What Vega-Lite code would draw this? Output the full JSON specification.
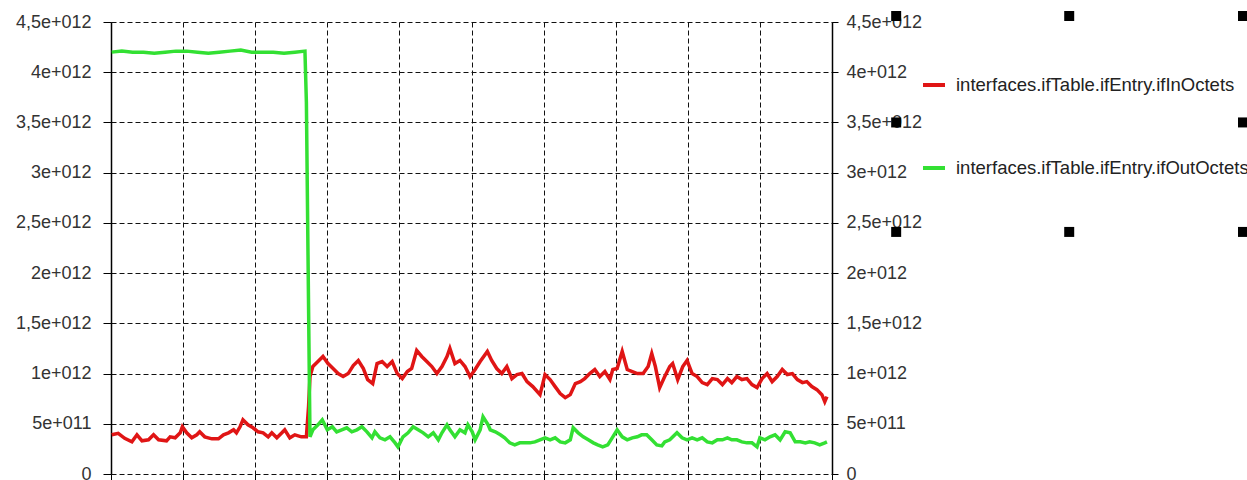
{
  "$schema": "https://vega.github.io/schema/vega-lite/v6.json",
  "width": 721,
  "height": 452,
  "autosize": "none",
  "padding": {"left": 111, "top": 22, "right": 415, "bottom": 6},
  "background": "white",
  "config": {"font": "Liberation Sans", "view": {"stroke": null}},
  "datasets": {
    "inOctets": [
      {"t": 0.1, "v": 0.39e12}, {"t": 1.0, "v": 0.405e12}, {"t": 1.9, "v": 0.355e12}, {"t": 2.9, "v": 0.32e12},
      {"t": 3.6, "v": 0.39e12}, {"t": 4.3, "v": 0.33e12}, {"t": 5.2, "v": 0.34e12}, {"t": 5.9, "v": 0.39e12},
      {"t": 6.6, "v": 0.34e12}, {"t": 7.7, "v": 0.33e12}, {"t": 8.2, "v": 0.37e12}, {"t": 8.9, "v": 0.36e12},
      {"t": 9.6, "v": 0.41e12}, {"t": 9.9, "v": 0.47e12}, {"t": 10.5, "v": 0.41e12}, {"t": 11.2, "v": 0.36e12},
      {"t": 11.9, "v": 0.39e12}, {"t": 12.3, "v": 0.42e12}, {"t": 13.0, "v": 0.37e12}, {"t": 14.0, "v": 0.35e12},
      {"t": 14.9, "v": 0.35e12}, {"t": 15.6, "v": 0.39e12}, {"t": 16.3, "v": 0.41e12}, {"t": 17.0, "v": 0.44e12},
      {"t": 17.4, "v": 0.41e12}, {"t": 17.9, "v": 0.47e12}, {"t": 18.3, "v": 0.54e12}, {"t": 19.0, "v": 0.49e12},
      {"t": 19.7, "v": 0.46e12}, {"t": 20.4, "v": 0.42e12}, {"t": 21.1, "v": 0.41e12}, {"t": 21.8, "v": 0.37e12},
      {"t": 22.3, "v": 0.41e12}, {"t": 23.0, "v": 0.36e12}, {"t": 23.7, "v": 0.41e12}, {"t": 24.1, "v": 0.44e12},
      {"t": 24.8, "v": 0.36e12}, {"t": 25.5, "v": 0.39e12}, {"t": 26.4, "v": 0.37e12}, {"t": 27.1, "v": 0.37e12},
      {"t": 27.4, "v": 0.67e12}, {"t": 27.6, "v": 0.97e12}, {"t": 28.0, "v": 1.07e12}, {"t": 28.7, "v": 1.12e12},
      {"t": 29.4, "v": 1.17e12}, {"t": 30.1, "v": 1.10e12}, {"t": 30.8, "v": 1.05e12}, {"t": 31.5, "v": 1.00e12},
      {"t": 32.2, "v": 0.97e12}, {"t": 32.9, "v": 1.00e12}, {"t": 33.6, "v": 1.08e12}, {"t": 34.3, "v": 1.13e12},
      {"t": 35.0, "v": 1.05e12}, {"t": 35.6, "v": 0.94e12}, {"t": 36.3, "v": 0.90e12}, {"t": 36.9, "v": 1.10e12},
      {"t": 37.6, "v": 1.12e12}, {"t": 38.3, "v": 1.07e12}, {"t": 39.0, "v": 1.12e12}, {"t": 39.7, "v": 1.00e12},
      {"t": 40.4, "v": 0.95e12}, {"t": 41.1, "v": 1.02e12}, {"t": 41.7, "v": 1.05e12}, {"t": 42.4, "v": 1.23e12},
      {"t": 43.1, "v": 1.17e12}, {"t": 43.8, "v": 1.12e12}, {"t": 44.5, "v": 1.07e12}, {"t": 45.2, "v": 1.00e12},
      {"t": 45.9, "v": 1.07e12}, {"t": 46.6, "v": 1.17e12}, {"t": 47.0, "v": 1.25e12}, {"t": 47.7, "v": 1.10e12},
      {"t": 48.4, "v": 1.13e12}, {"t": 49.1, "v": 1.07e12}, {"t": 49.8, "v": 0.97e12}, {"t": 50.5, "v": 1.04e12},
      {"t": 51.2, "v": 1.12e12}, {"t": 52.2, "v": 1.22e12}, {"t": 52.8, "v": 1.13e12}, {"t": 53.5, "v": 1.05e12},
      {"t": 54.2, "v": 1.00e12}, {"t": 54.9, "v": 1.07e12}, {"t": 55.6, "v": 0.95e12}, {"t": 56.3, "v": 0.99e12},
      {"t": 57.0, "v": 1.00e12}, {"t": 57.7, "v": 0.92e12}, {"t": 58.5, "v": 0.87e12}, {"t": 59.5, "v": 0.79e12},
      {"t": 60.2, "v": 0.99e12}, {"t": 60.9, "v": 0.94e12}, {"t": 61.6, "v": 0.87e12}, {"t": 62.3, "v": 0.80e12},
      {"t": 63.0, "v": 0.76e12}, {"t": 63.7, "v": 0.79e12}, {"t": 64.4, "v": 0.90e12}, {"t": 65.1, "v": 0.92e12},
      {"t": 65.7, "v": 0.95e12}, {"t": 66.4, "v": 1.00e12}, {"t": 67.1, "v": 1.04e12}, {"t": 67.8, "v": 0.97e12},
      {"t": 68.5, "v": 1.02e12}, {"t": 69.2, "v": 0.94e12}, {"t": 69.6, "v": 1.04e12}, {"t": 70.2, "v": 1.05e12},
      {"t": 70.9, "v": 1.22e12}, {"t": 71.6, "v": 1.04e12}, {"t": 72.3, "v": 1.02e12}, {"t": 73.0, "v": 1.00e12},
      {"t": 73.8, "v": 1.00e12}, {"t": 74.5, "v": 1.07e12}, {"t": 75.0, "v": 1.20e12}, {"t": 75.5, "v": 1.07e12},
      {"t": 76.1, "v": 0.86e12}, {"t": 76.8, "v": 0.97e12}, {"t": 77.5, "v": 1.07e12}, {"t": 77.9, "v": 1.10e12},
      {"t": 78.6, "v": 0.94e12}, {"t": 79.3, "v": 1.07e12}, {"t": 79.9, "v": 1.13e12}, {"t": 80.6, "v": 1.00e12},
      {"t": 81.3, "v": 0.97e12}, {"t": 82.0, "v": 0.91e12}, {"t": 82.7, "v": 0.89e12}, {"t": 83.4, "v": 0.95e12},
      {"t": 84.1, "v": 0.94e12}, {"t": 84.8, "v": 0.89e12}, {"t": 85.5, "v": 0.95e12}, {"t": 86.1, "v": 0.91e12},
      {"t": 86.8, "v": 0.97e12}, {"t": 87.5, "v": 0.94e12}, {"t": 88.2, "v": 0.95e12}, {"t": 88.9, "v": 0.89e12},
      {"t": 89.6, "v": 0.86e12}, {"t": 90.3, "v": 0.95e12}, {"t": 91.0, "v": 1.00e12}, {"t": 91.7, "v": 0.92e12},
      {"t": 92.4, "v": 0.97e12}, {"t": 93.1, "v": 1.04e12}, {"t": 93.8, "v": 0.99e12}, {"t": 94.5, "v": 1.00e12},
      {"t": 95.2, "v": 0.94e12}, {"t": 95.9, "v": 0.91e12}, {"t": 96.5, "v": 0.92e12}, {"t": 97.2, "v": 0.87e12},
      {"t": 97.9, "v": 0.84e12}, {"t": 98.6, "v": 0.79e12}, {"t": 99.0, "v": 0.72e12}, {"t": 99.3, "v": 0.77e12}
    ],
    "outOctets": [
      {"t": 0.1, "v": 4.20e12}, {"t": 1.5, "v": 4.21e12}, {"t": 3.0, "v": 4.20e12}, {"t": 4.5, "v": 4.20e12},
      {"t": 6.0, "v": 4.19e12}, {"t": 7.5, "v": 4.20e12}, {"t": 9.0, "v": 4.21e12}, {"t": 10.5, "v": 4.21e12},
      {"t": 12.0, "v": 4.20e12}, {"t": 13.5, "v": 4.19e12}, {"t": 15.0, "v": 4.20e12}, {"t": 16.5, "v": 4.21e12},
      {"t": 18.0, "v": 4.22e12}, {"t": 19.5, "v": 4.20e12}, {"t": 21.0, "v": 4.20e12}, {"t": 22.5, "v": 4.20e12},
      {"t": 24.0, "v": 4.19e12}, {"t": 25.5, "v": 4.20e12}, {"t": 26.9, "v": 4.21e12}, {"t": 27.1, "v": 3.70e12},
      {"t": 27.5, "v": 1.00e12}, {"t": 27.6, "v": 0.37e12}, {"t": 28.0, "v": 0.44e12}, {"t": 28.7, "v": 0.49e12},
      {"t": 29.3, "v": 0.54e12}, {"t": 30.0, "v": 0.44e12}, {"t": 30.7, "v": 0.47e12}, {"t": 31.3, "v": 0.42e12},
      {"t": 32.0, "v": 0.44e12}, {"t": 32.7, "v": 0.46e12}, {"t": 33.4, "v": 0.42e12}, {"t": 34.1, "v": 0.44e12},
      {"t": 34.8, "v": 0.47e12}, {"t": 35.5, "v": 0.42e12}, {"t": 36.2, "v": 0.36e12}, {"t": 36.6, "v": 0.42e12},
      {"t": 37.3, "v": 0.36e12}, {"t": 38.0, "v": 0.34e12}, {"t": 38.7, "v": 0.37e12}, {"t": 39.4, "v": 0.31e12},
      {"t": 39.8, "v": 0.27e12}, {"t": 40.5, "v": 0.37e12}, {"t": 41.2, "v": 0.41e12}, {"t": 41.9, "v": 0.47e12},
      {"t": 42.6, "v": 0.44e12}, {"t": 43.3, "v": 0.41e12}, {"t": 44.0, "v": 0.37e12}, {"t": 44.7, "v": 0.41e12},
      {"t": 45.4, "v": 0.34e12}, {"t": 45.9, "v": 0.41e12}, {"t": 46.6, "v": 0.49e12}, {"t": 47.0, "v": 0.44e12},
      {"t": 47.7, "v": 0.37e12}, {"t": 48.4, "v": 0.44e12}, {"t": 49.1, "v": 0.41e12}, {"t": 49.5, "v": 0.49e12},
      {"t": 50.1, "v": 0.42e12}, {"t": 50.5, "v": 0.34e12}, {"t": 51.2, "v": 0.44e12}, {"t": 51.6, "v": 0.57e12},
      {"t": 52.3, "v": 0.49e12}, {"t": 52.6, "v": 0.44e12}, {"t": 53.3, "v": 0.42e12}, {"t": 54.0, "v": 0.39e12},
      {"t": 54.6, "v": 0.36e12}, {"t": 55.3, "v": 0.31e12}, {"t": 56.0, "v": 0.29e12}, {"t": 56.7, "v": 0.31e12},
      {"t": 57.4, "v": 0.31e12}, {"t": 58.1, "v": 0.31e12}, {"t": 58.8, "v": 0.32e12}, {"t": 59.5, "v": 0.34e12},
      {"t": 60.2, "v": 0.36e12}, {"t": 60.9, "v": 0.34e12}, {"t": 61.6, "v": 0.36e12}, {"t": 62.3, "v": 0.32e12},
      {"t": 63.0, "v": 0.31e12}, {"t": 63.7, "v": 0.34e12}, {"t": 64.1, "v": 0.46e12}, {"t": 64.8, "v": 0.41e12},
      {"t": 65.5, "v": 0.37e12}, {"t": 66.2, "v": 0.34e12}, {"t": 66.9, "v": 0.31e12}, {"t": 67.5, "v": 0.29e12},
      {"t": 68.2, "v": 0.27e12}, {"t": 68.9, "v": 0.29e12}, {"t": 69.6, "v": 0.37e12}, {"t": 70.2, "v": 0.44e12},
      {"t": 70.9, "v": 0.37e12}, {"t": 71.6, "v": 0.34e12}, {"t": 72.3, "v": 0.36e12}, {"t": 73.0, "v": 0.37e12},
      {"t": 73.6, "v": 0.39e12}, {"t": 74.3, "v": 0.39e12}, {"t": 75.0, "v": 0.34e12}, {"t": 75.7, "v": 0.29e12},
      {"t": 76.4, "v": 0.28e12}, {"t": 76.8, "v": 0.32e12}, {"t": 77.5, "v": 0.34e12}, {"t": 78.5, "v": 0.41e12},
      {"t": 79.2, "v": 0.36e12}, {"t": 79.9, "v": 0.34e12}, {"t": 80.6, "v": 0.36e12}, {"t": 81.3, "v": 0.34e12},
      {"t": 82.0, "v": 0.36e12}, {"t": 82.7, "v": 0.32e12}, {"t": 83.4, "v": 0.31e12}, {"t": 84.1, "v": 0.34e12},
      {"t": 84.8, "v": 0.34e12}, {"t": 85.5, "v": 0.36e12}, {"t": 86.1, "v": 0.34e12}, {"t": 86.8, "v": 0.34e12},
      {"t": 87.5, "v": 0.32e12}, {"t": 88.2, "v": 0.31e12}, {"t": 88.9, "v": 0.31e12}, {"t": 89.6, "v": 0.27e12},
      {"t": 90.0, "v": 0.36e12}, {"t": 90.7, "v": 0.34e12}, {"t": 91.4, "v": 0.37e12}, {"t": 92.1, "v": 0.39e12},
      {"t": 92.8, "v": 0.34e12}, {"t": 93.5, "v": 0.42e12}, {"t": 94.2, "v": 0.41e12}, {"t": 94.9, "v": 0.32e12},
      {"t": 95.6, "v": 0.32e12}, {"t": 96.3, "v": 0.31e12}, {"t": 96.9, "v": 0.32e12}, {"t": 97.6, "v": 0.31e12},
      {"t": 98.3, "v": 0.29e12}, {"t": 99.0, "v": 0.31e12}, {"t": 99.3, "v": 0.32e12}
    ],
    "handles": [
      {"t": 108.9, "v": 4.56e12}, {"t": 132.9, "v": 4.56e12}, {"t": 157.0, "v": 4.56e12},
      {"t": 108.9, "v": 3.50e12}, {"t": 157.0, "v": 3.50e12},
      {"t": 108.9, "v": 2.41e12}, {"t": 132.9, "v": 2.41e12}, {"t": 157.0, "v": 2.41e12}
    ]
  },
  "layer": [
    {
      "data": {"name": "inOctets"},
      "mark": {"type": "line", "strokeWidth": 3.5, "strokeJoin": "miter"},
      "encoding": {
        "x": {
          "field": "t", "type": "quantitative",
          "scale": {"domain": [0, 100], "nice": false, "zero": false},
          "axis": {
            "orient": "bottom", "values": [0, 10, 20, 30, 40, 50, 60, 70, 80, 90, 100],
            "labels": false, "title": null, "domain": false,
            "ticks": true, "tickSize": 6, "tickColor": "#000",
            "grid": true, "gridDash": [5, 3], "gridColor": "#111", "gridWidth": 1, "gridOpacity": 1
          }
        },
        "y": {
          "field": "v", "type": "quantitative",
          "scale": {"domain": [0, 4.5e12], "nice": false, "zero": true},
          "axis": {
            "orient": "left", "title": null,
            "values": [0, 5e11, 1e12, 1.5e12, 2e12, 2.5e12, 3e12, 3.5e12, 4e12, 4.5e12],
            "labelExpr": "datum.value == 0 ? '0' : replace(format(datum.value / pow(10, floor(log(datum.value) / LN10 + 1e-9)), '~g'), '.', ',') + 'e+0' + floor(log(datum.value) / LN10 + 1e-9)",
            "labelFont": "Liberation Sans", "labelFontSize": 18, "labelColor": "#333", "labelPadding": 12,
            "labelOverlap": false,
            "domainColor": "#000", "domainWidth": 1.5,
            "tickColor": "#000", "tickSize": 8, "tickWidth": 1,
            "grid": true, "gridDash": [5, 3], "gridColor": "#111", "gridWidth": 1, "gridOpacity": 1
          }
        },
        "color": {
          "datum": "interfaces.ifTable.ifEntry.ifInOctets",
          "type": "nominal",
          "scale": {
            "domain": ["interfaces.ifTable.ifEntry.ifInOctets", "interfaces.ifTable.ifEntry.ifOutOctets"],
            "range": ["#e01515", "#33e033"]
          },
          "legend": {
            "orient": "none", "legendX": 810, "legendY": 50, "title": null, "padding": 0,
            "symbolType": "stroke", "symbolSize": 484, "symbolStrokeWidth": 4,
            "labelFont": "Liberation Sans", "labelFontSize": 18.5, "labelColor": "#222",
            "labelOffset": 9, "labelLimit": 600, "rowPadding": 60
          }
        }
      }
    },
    {
      "data": {"name": "outOctets"},
      "mark": {"type": "line", "strokeWidth": 3.5, "strokeJoin": "miter"},
      "encoding": {
        "x": {"field": "t", "type": "quantitative"},
        "y": {
          "field": "v", "type": "quantitative",
          "axis": {
            "orient": "right", "title": null,
            "values": [0, 5e11, 1e12, 1.5e12, 2e12, 2.5e12, 3e12, 3.5e12, 4e12, 4.5e12],
            "labelExpr": "datum.value == 0 ? '0' : replace(format(datum.value / pow(10, floor(log(datum.value) / LN10 + 1e-9)), '~g'), '.', ',') + 'e+0' + floor(log(datum.value) / LN10 + 1e-9)",
            "labelFont": "Liberation Sans", "labelFontSize": 18, "labelColor": "#333", "labelPadding": 8,
            "labelOverlap": false,
            "domainColor": "#000", "domainWidth": 1.5,
            "tickColor": "#000", "tickSize": 6, "tickWidth": 1,
            "grid": false
          }
        },
        "color": {"datum": "interfaces.ifTable.ifEntry.ifOutOctets", "type": "nominal"}
      }
    },
    {
      "data": {"name": "handles"},
      "mark": {"type": "square", "size": 100, "color": "#000", "opacity": 1, "filled": true},
      "encoding": {
        "x": {"field": "t", "type": "quantitative"},
        "y": {"field": "v", "type": "quantitative", "axis": null}
      }
    }
  ],
  "resolve": {"axis": {"y": "independent"}}
}
